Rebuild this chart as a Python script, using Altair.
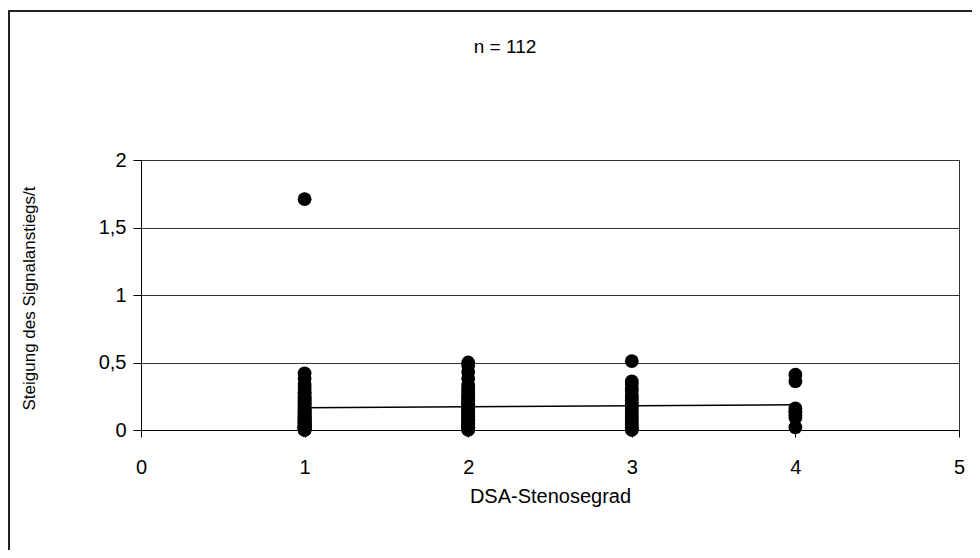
import altair as alt
import pandas as pd

g1 = [1.71, 0.42, 0.38, 0.34, 0.32, 0.30, 0.28, 0.27, 0.25, 0.24, 0.23, 0.22, 0.21, 0.20,
      0.19, 0.18, 0.17, 0.16, 0.15, 0.14, 0.14, 0.13, 0.12, 0.12, 0.11, 0.10, 0.10, 0.09,
      0.09, 0.08, 0.08, 0.07, 0.07, 0.06, 0.06, 0.05, 0.05, 0.04, 0.04, 0.03, 0.03, 0.03,
      0.02, 0.02, 0.02, 0.01, 0.01, 0.01, 0.00, 0.00]
g2 = [0.50, 0.48, 0.43, 0.38, 0.33, 0.31, 0.29, 0.27, 0.25, 0.24, 0.22, 0.21, 0.20, 0.19,
      0.18, 0.17, 0.16, 0.15, 0.14, 0.13, 0.12, 0.11, 0.10, 0.09, 0.08, 0.07, 0.06, 0.05,
      0.04, 0.03, 0.02, 0.02, 0.01, 0.00]
g3 = [0.51, 0.36, 0.34, 0.31, 0.29, 0.26, 0.24, 0.22, 0.20, 0.18, 0.16, 0.14, 0.12, 0.10,
      0.08, 0.06, 0.04, 0.02, 0.01, 0.00]
g4 = [0.41, 0.36, 0.16, 0.14, 0.13, 0.11, 0.09, 0.02]

x_ticks = [0, 1, 2, 3, 4, 5]
y_ticks = [0, 0.5, 1, 1.5, 2]

rows = []
for grade, vals in [(1, g1), (2, g2), (3, g3), (4, g4)]:
    for v in vals:
        rows.append({"grad": grade, "steigung": v})
df = pd.DataFrame(rows)

FONT = "Liberation Sans"
W, H = 818, 270

xenc = alt.X("grad:Q", scale=alt.Scale(domain=[0, 5], nice=False),
             axis=alt.Axis(values=x_ticks, title="DSA-Stenosegrad", grid=False,
                           format="d", labelFlush=False,
                           labelFontSize=20, titleFontSize=20, labelPadding=20,
                           titlePadding=9, tickSize=7, labelFont=FONT, titleFont=FONT,
                           labelColor="black", titleColor="black", titleFontWeight="normal",
                           domainColor="black", tickColor="black"))
yenc = alt.Y("steigung:Q", scale=alt.Scale(domain=[0, 2], nice=False),
             axis=alt.Axis(values=y_ticks, title="Steigung des Signalanstiegs/t",
                           labelExpr="replace(format(datum.value, '~g'), '.', ',')",
                           labelFlush=False,
                           grid=True, gridColor="#333333", gridWidth=1,
                           labelFontSize=20, titleFontSize=17, labelPadding=7,
                           titleX=-112, titleY=138, titleAngle=-90, titleBaseline="middle",
                           titleAlign="center",
                           tickSize=8, labelFont=FONT, titleFont=FONT,
                           labelColor="black", titleColor="black", titleFontWeight="normal",
                           domainColor="black", tickColor="black"))

points = alt.Chart(df).mark_circle(size=190, color="black", opacity=1).encode(x=xenc, y=yenc)

trend = alt.Chart(df).transform_regression(
    "grad", "steigung", extent=[1, 4]
).mark_line(color="black", strokeWidth=1.5).encode(x=xenc, y=yenc)

title = alt.Chart(pd.DataFrame({"t": ["n = 112"]})).mark_text(
    font=FONT, fontSize=19, color="black", align="center", baseline="middle"
).encode(x=alt.value(364), y=alt.value(-113), text="t:N")

frame = alt.Chart(pd.DataFrame({"a": [0]})).mark_rect(
    fill=None, stroke="#222222", strokeWidth=2
).encode(x=alt.value(-132), x2=alt.value(W + 200), y=alt.value(-149), y2=alt.value(H + 300))

chart = alt.layer(frame, trend, points, title).properties(
    width=W, height=H,
    autosize=alt.AutoSizeParams(type="none"),
    padding={"left": 133, "top": 152, "right": 13, "bottom": 120},
).configure_view(stroke="#333333", strokeWidth=1)

chart.save("out.html", embed_options={"renderer": "svg", "actions": False})
